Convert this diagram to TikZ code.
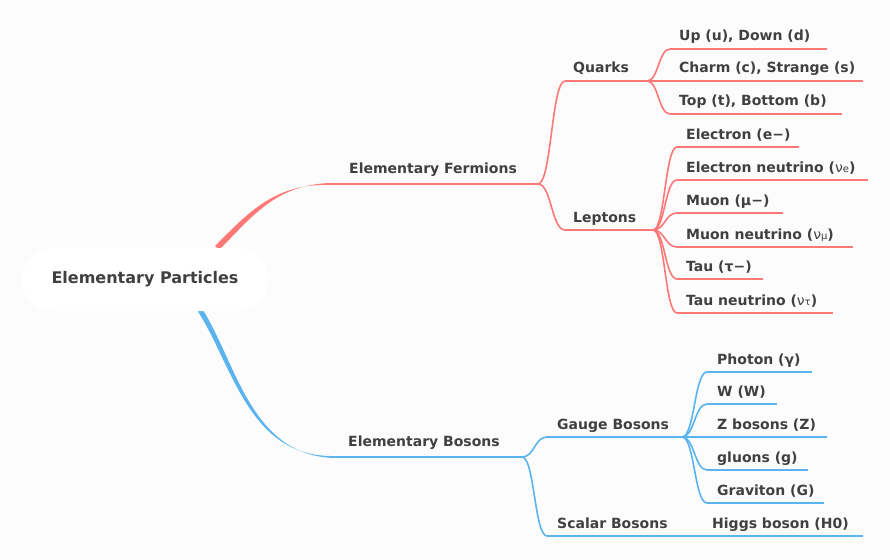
\documentclass[tikz,border=0pt]{standalone}
\usepackage{fontspec}
\setmainfont{DejaVu Sans}
\usetikzlibrary{calc}
\definecolor{bgc}{HTML}{FCFCFC}
\definecolor{redc}{HTML}{FF7878}
\definecolor{bluec}{HTML}{5CB4EE}
\definecolor{txtc}{HTML}{404040}
\newcommand\nusub[1]{{\mdseries ν\raisebox{-0.7pt}{\fontsize{10}{10}\selectfont #1}}}
\newcommand\branch[3][]{\draw[#1] let \p1=(#2), \p2=(#3) in (#2) .. controls ({(\x1+\x2)/2},\y1) and ({(\x1+\x2)/2},\y2) .. (#3);}
\tikzset{
  lbl/.style={anchor=base west, inner sep=0pt, text=txtc, font=\bfseries\fontsize{14}{16}\selectfont},
  rl/.style={draw=redc, line width=1.6pt},
  bl/.style={draw=bluec, line width=1.6pt},
  rootbox/.style={fill=white, rounded corners=31pt, minimum width=246pt, minimum height=63pt, inner sep=0pt, text=txtc, font=\bfseries\fontsize{16}{18}\selectfont},
}
\begin{document}
\begin{tikzpicture}[x=1pt,y=-1pt]
\fill[bgc] (0,0) rectangle (890,559);
\useasboundingbox (0,0) rectangle (890,559);

% coordinates
\coordinate (rs) at (217,248);
\coordinate (bs) at (200,310);
\coordinate (EFa) at (330,184); \coordinate (EFb) at (538,184);
\coordinate (Qa) at (565,81);  \coordinate (Qb) at (647,81);
\coordinate (La) at (565,230); \coordinate (Lb) at (653,230);
\coordinate (Ua) at (670,49);  \coordinate (Ub) at (827,49);
\coordinate (Cb) at (863,81);
\coordinate (Ta) at (670,114); \coordinate (Tb) at (842,114);
\coordinate (Ea) at (677,147); \coordinate (Eb) at (799,147);
\coordinate (ENa) at (677,180); \coordinate (ENb) at (868,180);
\coordinate (Ma) at (677,213); \coordinate (Mb) at (783,213);
\coordinate (MNa) at (677,247); \coordinate (MNb) at (853,247);
\coordinate (TAa) at (677,279); \coordinate (TAb) at (763,279);
\coordinate (TNa) at (677,313); \coordinate (TNb) at (833,313);
\coordinate (EBa) at (335,457); \coordinate (EBb) at (522,457);
\coordinate (Ga) at (547,437); \coordinate (Gb) at (682,437);
\coordinate (Sa) at (547,536); \coordinate (Sb) at (707,536);
\coordinate (PHa) at (707,372); \coordinate (PHb) at (812,372);
\coordinate (Wa) at (707,404); \coordinate (Wb) at (777,404);
\coordinate (Zb) at (827,437);
\coordinate (GLa) at (707,470); \coordinate (GLb) at (808,470);
\coordinate (GRa) at (707,503); \coordinate (GRb) at (824,503);
\coordinate (Hb) at (863,536);

% main tapered branches
\fill[redc] ([shift={(-2,-2)}]rs) .. controls (248,213) and (275,183) .. ([yshift=-1]EFa)
  -- ([yshift=1]EFa) .. controls (275,185) and (252,217) .. ([shift={(2,2)}]rs) -- cycle;
\fill[bluec] ([shift={(2.1,-1.4)}]bs) .. controls (237,364) and (251,456) .. ([yshift=-1]EBa)
  -- ([yshift=1]EBa) .. controls (249,458) and (233,366) .. ([shift={(-2.1,1.4)}]bs) -- cycle;

% red connectors
\draw[rl] (EFa) -- (EFb);
\branch[rl]{EFb}{Qa} \draw[rl] (Qa) -- (Qb);
\branch[rl]{EFb}{La} \draw[rl] (La) -- (Lb);
\branch[rl]{Qb}{Ua} \draw[rl] (Ua) -- (Ub);
\draw[rl] (Qb) -- (Cb);
\branch[rl]{Qb}{Ta} \draw[rl] (Ta) -- (Tb);
\branch[rl]{Lb}{Ea} \draw[rl] (Ea) -- (Eb);
\branch[rl]{Lb}{ENa} \draw[rl] (ENa) -- (ENb);
\branch[rl]{Lb}{Ma} \draw[rl] (Ma) -- (Mb);
\branch[rl]{Lb}{MNa} \draw[rl] (MNa) -- (MNb);
\branch[rl]{Lb}{TAa} \draw[rl] (TAa) -- (TAb);
\branch[rl]{Lb}{TNa} \draw[rl] (TNa) -- (TNb);

% blue connectors
\draw[bl] (EBa) -- (EBb);
\branch[bl]{EBb}{Ga} \draw[bl] (Ga) -- (Gb);
\branch[bl]{EBb}{Sa} \draw[bl] (Sa) -- (Sb);
\branch[bl]{Gb}{PHa} \draw[bl] (PHa) -- (PHb);
\branch[bl]{Gb}{Wa} \draw[bl] (Wa) -- (Wb);
\draw[bl] (Gb) -- (Zb);
\branch[bl]{Gb}{GLa} \draw[bl] (GLa) -- (GLb);
\branch[bl]{Gb}{GRa} \draw[bl] (GRa) -- (GRb);
\draw[bl] (Sb) -- (Hb);

% root
\node[rootbox] (root) at (145,279.5) {Elementary Particles};

% labels
\node[lbl] (ef) at (349,173) {Elementary Fermions};
\node[lbl] (eb) at (348,446) {Elementary Bosons};
\node[lbl] (q) at (573,73) {Quarks};
\node[lbl] (l) at (573,222) {Leptons};
\node[lbl] (u) at (679,41) {Up (u), Down (d)};
\node[lbl] (c) at (679,73) {Charm (c), Strange (s)};
\node[lbl] (t) at (679,106) {Top (t), Bottom (b)};
\node[lbl] (e) at (686,139) {Electron (e−)};
\node[lbl] (en) at (686,172) {Electron neutrino (\nusub{e})};
\node[lbl] (m) at (686,205) {Muon (μ−)};
\node[lbl] (mn) at (686,239) {Muon neutrino (\nusub{μ})};
\node[lbl] (ta) at (686,271) {Tau (τ−)};
\node[lbl] (tn) at (686,305) {Tau neutrino (\nusub{τ})};
\node[lbl] (g) at (557,429) {Gauge Bosons};
\node[lbl] (s) at (557,528) {Scalar Bosons};
\node[lbl] (ph) at (717,364) {Photon (γ)};
\node[lbl] (w) at (717,396) {W (W)};
\node[lbl] (z) at (717,429) {Z bosons (Z)};
\node[lbl] (gl) at (717,462) {gluons (g)};
\node[lbl] (gr) at (717,495) {Graviton (G)};
\node[lbl] (h) at (712,528) {Higgs boson (H0)};
\end{tikzpicture}
\end{document}
